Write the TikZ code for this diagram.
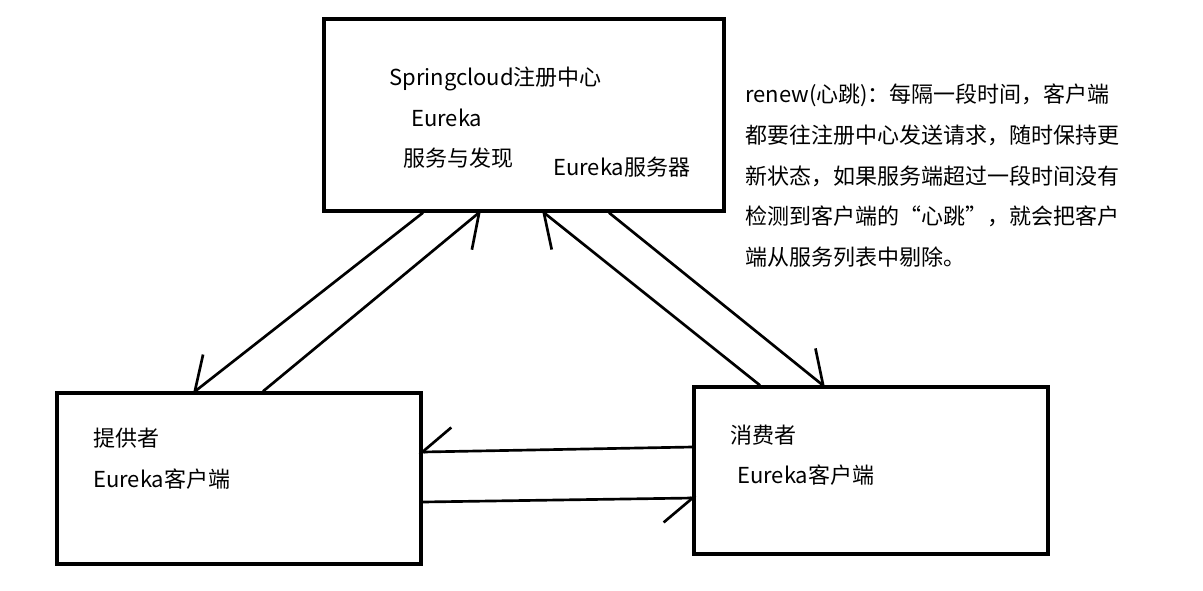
\documentclass[tikz,border=0pt]{standalone}
\usepackage{fontspec}
\setmainfont{Noto Sans CJK SC}
\usetikzlibrary{arrows.meta}

\begin{document}
\begin{tikzpicture}[x=0.75pt,y=0.75pt,yscale=-1,xscale=1,
		box/.style={draw, line width=2.5pt, inner sep=0pt},
		txt/.style={anchor=west, inner sep=0pt, font=\fontsize{16.5pt}{30.4pt}\selectfont},
		link/.style={line width=2pt, shorten >=-3pt},
		barbr/.style={link, -{Straight Barb[harpoon, swap, length=22pt, width=36pt]}},
		barbl/.style={link, -{Straight Barb[harpoon, length=22pt, width=36pt]}}]
			\useasboundingbox (0,0) rectangle (1203,590);

			%Shape: Rectangle [id:hub]
			\node [box, minimum width=300pt, minimum height=144pt] (hub) at (524,115) {};
			%Shape: Rectangle [id:prov]
			\node [box, minimum width=273pt, minimum height=128.25pt] (prov) at (239,478.5) {};
			%Shape: Rectangle [id:cons]
			\node [box, minimum width=265.5pt, minimum height=125.25pt] (cons) at (871,470.5) {};

			%Straight Lines [id:hub-prov]
			\draw [barbr] (hub.south-|423,0) -- (prov.north-|195,0) ;
			%Straight Lines [id:prov-hub]
			\draw [barbr] (prov.north-|263,0) -- (hub.south-|479,0) ;
			%Straight Lines [id:cons-hub]
			\draw [barbl] (cons.north-|760,0) -- (hub.south-|544,0) ;
			%Straight Lines [id:hub-cons]
			\draw [barbl] (hub.south-|609,0) -- (cons.north-|823,0) ;
			%Straight Lines [id:cons-prov]
			\draw [barbr] (cons.west|-0,447) -- (prov.east|-0,452) ;
			%Straight Lines [id:prov-cons]
			\draw [barbr] (prov.east|-0,502) -- (cons.west|-0,498) ;

			% Text Node
			\node [txt] (hubname) at (389,79) {Springcloud注册中心};
			% Text Node
			\node [txt] (hubeureka) at (411,118) {Eureka};
			% Text Node
			\node [txt] (hubrole) at (403,158) {服务与发现};
			% Text Node
			\node [txt] (hubserver) at (553,167) {Eureka服务器};
			% Text Node
			\node [txt] (provname) at (93,438) {提供者};
			% Text Node
			\node [txt] (provclient) at (93,479) {Eureka客户端};
			% Text Node
			\node [txt] (consname) at (730,435) {消费者};
			% Text Node
			\node [txt] (consclient) at (737,475) {Eureka客户端};
			% Text Node
			\node [txt, anchor=north west, align=left] (renew) at (745,84) {renew(心跳)：每隔一段时间，客户端\\都要往注册中心发送请求，随时保持更\\新状态，如果服务端超过一段时间没有\\检测到客户端的“心跳”，就会把客户\\端从服务列表中剔除。};

		\end{tikzpicture}
\end{document}
